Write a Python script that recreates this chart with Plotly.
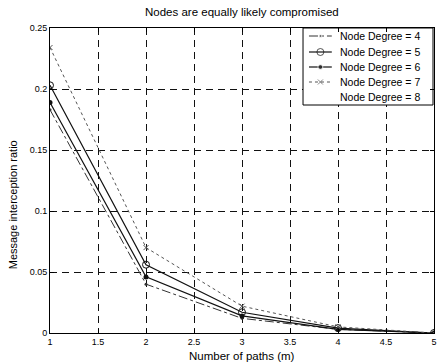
import plotly.graph_objects as go

paths = [1, 2, 3, 4, 5]
deg4 = [0.183, 0.040, 0.012, 0.003, 0.0]
deg5 = [0.203, 0.056, 0.017, 0.004, 0.0]
deg6 = [0.189, 0.046, 0.014, 0.003, 0.0]
deg7 = [0.234, 0.070, 0.022, 0.005, 0.0]
deg8 = [0.190, 0.048, 0.015, 0.004, 0.0]
names = ["Node Degree = 4", "Node Degree = 5", "Node Degree = 6", "Node Degree = 7", "Node Degree = 8"]
x_ticks = [1, 1.5, 2, 2.5, 3, 3.5, 4, 4.5, 5]
y_ticks = [0, 0.05, 0.1, 0.15, 0.2, 0.25]
y_tick_text = ["0", "0.05", "0.1", "0.15", "0.2", "0.25"]

font = "Liberation Sans, Arial, sans-serif"
W, H = 441, 364
ML, MR, MT, MB = 50, 4, 28, 31

styles = [
    dict(line=dict(color="#333", width=1, dash="dashdot"), marker=dict(symbol="circle", size=3, color="#333")),
    dict(line=dict(color="#111", width=1.2, dash="solid"), marker=dict(symbol="circle-open", size=7, color="#111")),
    dict(line=dict(color="#111", width=1.2, dash="solid"), marker=dict(symbol="circle", size=5, color="#111")),
    dict(line=dict(color="#555", width=1, dash="dot"), marker=dict(symbol="x-thin-open", size=5, color="#555", line=dict(width=1, color="#555"))),
    dict(line=dict(color="rgba(255,255,255,0)", width=1), marker=dict(size=1, color="rgba(255,255,255,0)")),
]

fig = go.Figure()
for n, y, s in zip(names, [deg4, deg5, deg6, deg7, deg8], styles):
    fig.add_trace(go.Scatter(x=paths, y=y, name=n, mode="lines+markers", showlegend=False, **s))

# legend (drawn manually, MATLAB style) on an overlay axis spanning the plot area [0,1]x[0,1]
pw, ph = W - ML - MR, H - MT - MB
def px(xp):
    return (xp - ML) / pw
def py(yp):
    return (H - MB - yp) / ph

bx0, bx1, by0, by1 = px(305), px(436), py(105), py(28)
fig.add_trace(go.Scatter(x=[bx0, bx1, bx1, bx0, bx0], y=[by0, by0, by1, by1, by0], mode="lines",
                         fill="toself", fillcolor="white", line=dict(color="black", width=1),
                         showlegend=False, hoverinfo="skip", xaxis="x2", yaxis="y2"))

row_y = [36, 52, 67, 82, 97]
sx0, sx1 = px(311), px(334)
sxm = (sx0 + sx1) / 2
for n, ry, s in zip(names, row_y, styles):
    yy = py(ry)
    msize = s["marker"].get("size", 1)
    mk = dict(s["marker"])
    mk["size"] = [0, msize, 0]
    fig.add_trace(go.Scatter(x=[sx0, sxm, sx1], y=[yy, yy, yy], mode="lines+markers",
                             line=s["line"], marker=mk, showlegend=False, hoverinfo="skip",
                             xaxis="x2", yaxis="y2"))

annotations = []
for n, ry in zip(names, row_y):
    annotations.append(dict(text=n, xref="paper", yref="paper", x=px(340), y=py(ry), xanchor="left",
                            yanchor="middle", showarrow=False, font=dict(size=10.5, family=font, color="black")))
annotations.append(dict(text="Message interception ratio", xref="paper", yref="paper", x=px(13), y=py(205),
                        textangle=-90, showarrow=False, xanchor="center", yanchor="middle",
                        font=dict(size=11, family=font, color="black")))
annotations.append(dict(text="Number of paths (m)", xref="paper", yref="paper", x=0.5, y=py(356),
                        showarrow=False, xanchor="center", yanchor="middle",
                        font=dict(size=11.5, family=font, color="black")))
annotations.append(dict(text="Nodes are equally likely compromised", xref="paper", yref="paper", x=0.5, y=py(12),
                        showarrow=False, xanchor="center", yanchor="middle",
                        font=dict(size=11.5, family=font, color="black")))

axis_common = dict(
    showline=True, linecolor="black", linewidth=1, mirror="ticks",
    ticks="inside", ticklen=4, tickcolor="black",
    showgrid=True, gridcolor="#111", griddash="7px,5px", gridwidth=1,
    zeroline=False, tickfont=dict(size=9, family=font, color="black"),
)
fig.update_layout(
    width=W, height=H,
    margin=dict(l=ML, r=MR, t=MT, b=MB),
    paper_bgcolor="white", plot_bgcolor="white",
    showlegend=False,
    xaxis=dict(range=[1, 5], tickvals=x_ticks, ticktext=[str(v) for v in x_ticks], **axis_common),
    yaxis=dict(range=[0, 0.25], tickvals=y_ticks, ticktext=y_tick_text, **axis_common),
    xaxis2=dict(range=[0, 1], overlaying="x", visible=False, fixedrange=True),
    yaxis2=dict(range=[0, 1], overlaying="y", visible=False, fixedrange=True),
    annotations=annotations,
)
fig.write_html("out.html")
